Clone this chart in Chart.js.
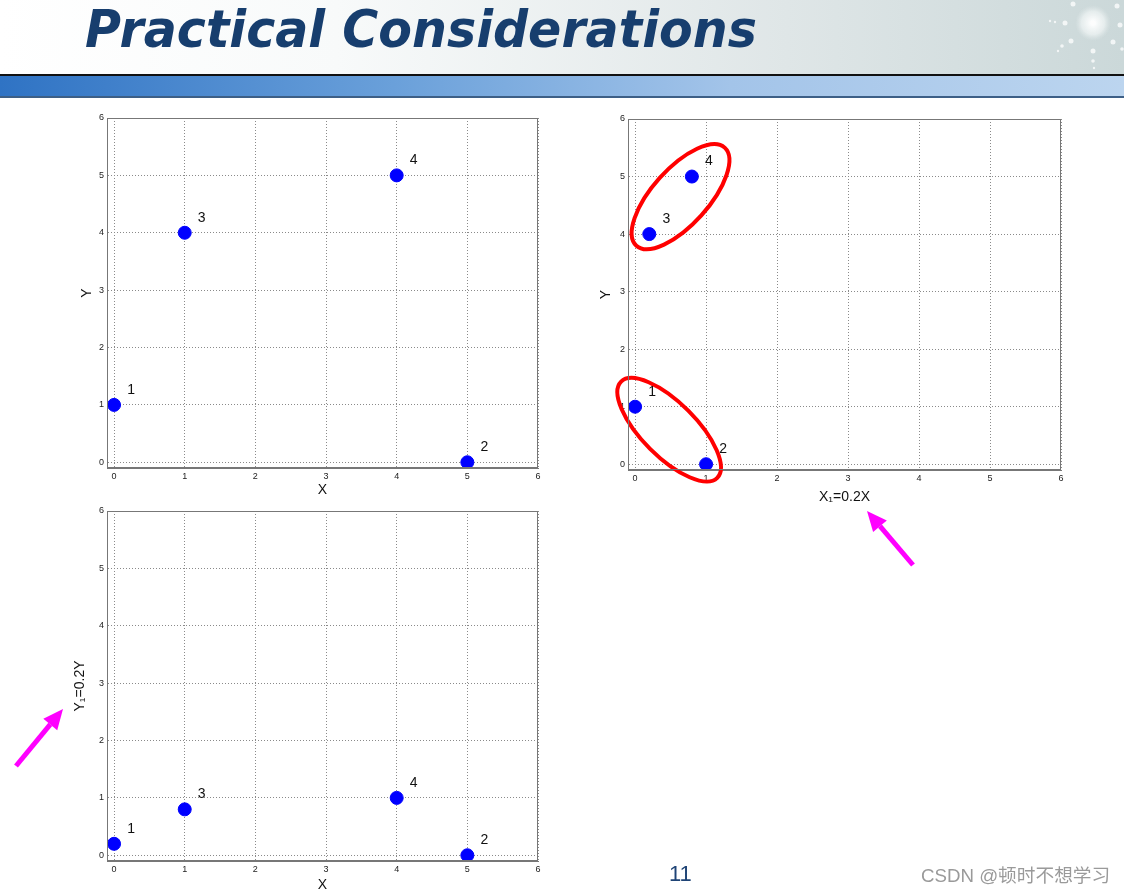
<!DOCTYPE html>
<html>
<head>
<meta charset="utf-8">
<script src="https://cdn.jsdelivr.net/npm/chart.js@4.4.1/dist/chart.umd.min.js"></script>
<style>
    body { margin: 0; width: 1124px; height: 891px; overflow: hidden; background: #fff; position: relative; }
    .abs { position: absolute; }
    #header { left: 0; top: 0; width: 1124px; height: 74px; background: linear-gradient(to right, #ffffff 0%, #f8fafa 30%, #dfe6e7 70%, #cbd8d9 100%); }
    #rule { left: 0; top: 74px; width: 1124px; height: 2px; background: #111; }
    #bar { left: 0; top: 76px; width: 1124px; height: 20px; background: linear-gradient(to right, #2f73c4 0%, #6aa0da 35%, #a3c4e9 65%, #bcd5ef 100%); }
    #barline { left: 0; top: 96px; width: 1124px; height: 2px; background: #3d5f86; }
    #title { left: 85px; top: 3px; font: italic bold 52px "DejaVu Sans", sans-serif; line-height: 1; color: #173e6e; transform-origin: 0 0; white-space: nowrap; }
    #pageNo { left: 669px; top: 861px; font: 22px "Liberation Sans", Arial, sans-serif; color: #1f4476; }
    #mark { left: 921px; top: 860px; font: 18.7px "Liberation Sans", "Noto Sans CJK SC", sans-serif; color: #9a9a9a; white-space: nowrap; }
    canvas { position: absolute; }
</style>
</head>
<body>
<div id="header" class="abs"></div>
<div id="rule" class="abs"></div>
<div id="bar" class="abs"></div>
<div id="barline" class="abs"></div>
<div id="title" class="abs">Practical Considerations</div>
<canvas id="plotA"></canvas>
<canvas id="plotB"></canvas>
<canvas id="plotC"></canvas>
<canvas id="overlay" width="1124" height="891" style="left:0;top:0;pointer-events:none"></canvas>
<div id="pageNo" class="abs">11</div>
<div id="mark" class="abs">CSDN @顿时不想学习</div>

<script>
// data
const pointLabels = ['1', '2', '3', '4'];
const xOrig = [0, 5, 1, 4];
const yOrig = [1, 0, 4, 5];
const xScaled = [0, 1, 0.2, 0.8];     // X1 = 0.2X
const yScaled = [0.2, 0, 0.8, 1];     // Y1 = 0.2Y
const tickValues = [0, 1, 2, 3, 4, 5, 6];

// red rings on the second plot (centre in data units, radii in px)
const rings = [
    { cx: 0.64, cy: 4.65, rx: 66, ry: 28, angle: -48 },
    { cx: 0.48, cy: 0.60, rx: 68, ry: 27, angle: 45 }
];

const tickFont = { family: '"Liberation Sans", Arial, sans-serif', size: 9 };
const titleFont = { family: '"Liberation Sans", Arial, sans-serif', size: 14 };

// fit title width to the slide
const titleEl = document.getElementById('title');
titleEl.style.transform = 'scaleX(' + (672 / titleEl.offsetWidth) + ')';

const boxPlugin = {
    id: 'box',
    afterDraw(chart) {
        const a = chart.chartArea, ctx = chart.ctx;
        ctx.save();
        ctx.strokeStyle = '#777';
        ctx.lineWidth = 1;
        ctx.strokeRect(a.left + 0.5, a.top + 0.5, a.right - a.left - 1, a.bottom - a.top - 1);
        ctx.restore();
    }
};

const labelPlugin = {
    id: 'pointText',
    afterDatasetsDraw(chart) {
        const ctx = chart.ctx;
        const meta = chart.getDatasetMeta(0);
        ctx.save();
        ctx.font = '14px "Liberation Sans", Arial, sans-serif';
        ctx.fillStyle = '#111';
        ctx.textAlign = 'center';
        ctx.textBaseline = 'middle';
        meta.data.forEach((p, i) => ctx.fillText(pointLabels[i], p.x + 17, p.y - 15));
        ctx.restore();
    }
};

const ringPlugin = {
    id: 'rings',
    afterDatasetsDraw(chart, args, opts) {
        if (!opts.list) return;
        const ctx = chart.ctx, xs = chart.scales.x, ys = chart.scales.y;
        ctx.save();
        ctx.strokeStyle = '#f00';
        ctx.lineWidth = 4;
        opts.list.forEach(r => {
            ctx.beginPath();
            ctx.ellipse(xs.getPixelForValue(r.cx), ys.getPixelForValue(r.cy), r.rx, r.ry, r.angle * Math.PI / 180, 0, Math.PI * 2);
            ctx.stroke();
        });
        ctx.restore();
    }
};

function buildPlot(id, xs, ys, box, xTitle, yTitle, xTitleY, yTitleX, list) {
    const cv = document.getElementById(id);
    const cLeft = box.l - 60, cTop = box.t - 20;
    const cW = box.r - box.l + 80, cH = box.b - box.t + 60;
    cv.style.left = cLeft + 'px';
    cv.style.top = cTop + 'px';
    cv.width = cW;
    cv.height = cH;
    const half = titleFont.size * 1.2 / 2;
    const yLeft = yTitleX - half;
    const xBottom = xTitleY + half;

    const axis = {
        type: 'linear',
        min: -0.1,
        max: 6,
        afterBuildTicks: s => { s.ticks = tickValues.map(v => ({ value: v })); },
        ticks: { font: tickFont, color: '#222', padding: 3, maxRotation: 0 },
        grid: { color: '#8a8a8a', lineWidth: 1, drawTicks: false },
        border: { display: true, color: '#777', dash: [1, 2] }
    };

    return new Chart(cv, {
        type: 'scatter',
        data: {
            datasets: [{
                data: xs.map((x, i) => ({ x, y: ys[i] })),
                backgroundColor: '#0000ff',
                borderColor: '#0000ff',
                pointRadius: 6.5,
                pointHoverRadius: 6.5
            }]
        },
        options: {
            responsive: false,
            animation: false,
            events: [],
            layout: {
                padding: { left: yLeft - cLeft, top: box.t - cTop, right: cLeft + cW - box.r, bottom: cTop + cH - xBottom }
            },
            scales: {
                x: Object.assign({}, axis, {
                    position: 'bottom',
                    title: { display: true, text: xTitle, font: titleFont, color: '#111', padding: 0 },
                    afterFit: s => { s.height = xBottom - box.b; }
                }),
                y: Object.assign({}, axis, {
                    position: 'left',
                    title: { display: true, text: yTitle, font: titleFont, color: '#111', padding: 0 },
                    afterFit: s => { s.width = box.l - yLeft; }
                })
            },
            plugins: {
                legend: { display: false },
                tooltip: { enabled: false },
                rings: { list }
            }
        },
        plugins: [boxPlugin, ringPlugin, labelPlugin]
    });
}

buildPlot('plotA', xOrig, yOrig, { l: 107, t: 118, r: 538, b: 468 }, 'X', 'Y', 490, 87, null);
buildPlot('plotB', xScaled, yOrig, { l: 628, t: 119, r: 1061, b: 470 }, 'X₁=0.2X', 'Y', 497, 606, rings);
buildPlot('plotC', xOrig, yScaled, { l: 107, t: 511, r: 538, b: 861 }, 'X', 'Y₁=0.2Y', 885, 80, null);

// decorations: magenta arrows and the header sparkle
const oc = document.getElementById('overlay').getContext('2d');

function arrow(x0, y0, x1, y1) {
    const ang = Math.atan2(y1 - y0, x1 - x0);
    const headLen = 20, headW = 9;
    const bx = x1 - headLen * Math.cos(ang), by = y1 - headLen * Math.sin(ang);
    oc.strokeStyle = '#ff00ff';
    oc.fillStyle = '#ff00ff';
    oc.lineWidth = 5;
    oc.beginPath();
    oc.moveTo(x0, y0);
    oc.lineTo(bx, by);
    oc.stroke();
    oc.beginPath();
    oc.moveTo(x1, y1);
    oc.lineTo(bx + headW * Math.sin(ang), by - headW * Math.cos(ang));
    oc.lineTo(bx - headW * Math.sin(ang), by + headW * Math.cos(ang));
    oc.closePath();
    oc.fill();
}
arrow(913, 565, 867, 511);
arrow(16, 766, 63, 709);

const glow = oc.createRadialGradient(1093, 23, 2, 1093, 23, 18);
glow.addColorStop(0, 'rgba(255,255,255,0.95)');
glow.addColorStop(0.6, 'rgba(240,245,245,0.7)');
glow.addColorStop(1, 'rgba(225,233,233,0)');
oc.fillStyle = glow;
oc.beginPath();
oc.arc(1093, 23, 18, 0, Math.PI * 2);
oc.fill();
oc.fillStyle = 'rgba(255,255,255,0.75)';
[[1073, 4, 2.5], [1117, 6, 2.5], [1065, 23, 2.5], [1055, 22, 1.2], [1050, 21, 1.2],
 [1120, 25, 2.5], [1071, 41, 2.5], [1062, 46, 1.8], [1058, 51, 1.2], [1113, 42, 2.5],
 [1093, 51, 2.5], [1093, 61, 1.8], [1094, 68, 1.2], [1122, 49, 1.8]].forEach(d => {
    oc.beginPath();
    oc.arc(d[0], d[1], d[2], 0, Math.PI * 2);
    oc.fill();
});
</script>
</body>
</html>
